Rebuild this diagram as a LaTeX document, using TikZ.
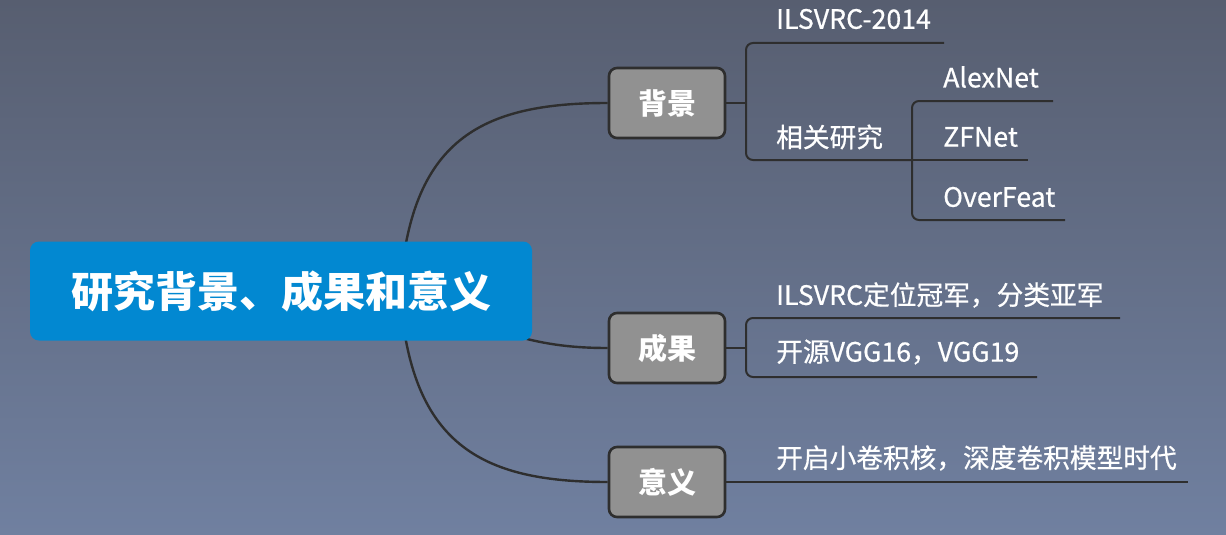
\documentclass[tikz,border=0pt]{standalone}
\usepackage{fontspec}
\setmainfont{Noto Sans CJK SC}
\newfontfamily\leaffont[FakeBold=0.6]{Noto Sans CJK SC}
\definecolor{bgtop}{HTML}{575E70}
\definecolor{bgbot}{HTML}{7080A0}
\definecolor{rootblue}{HTML}{0288D1}
\definecolor{boxgrey}{HTML}{919191}
\definecolor{linec}{HTML}{2E2E2E}
\begin{document}
\begin{tikzpicture}[x=1pt,y=-1pt,
  branch/.style={draw=linec,line width=2.4pt},
  sub/.style={draw=linec,line width=2pt,rounded corners=7pt},
  root/.style={fill=rootblue,rounded corners=9pt,minimum width=502pt,minimum height=99pt,inner sep=0pt,text=white,font=\bfseries\fontsize{42}{42}\selectfont},
  topic/.style={fill=boxgrey,draw=linec,line width=2.6pt,rounded corners=8pt,minimum width=116pt,minimum height=70pt,inner sep=0pt,text=white,font=\bfseries\fontsize{29}{29}\selectfont},
  leaf/.style={anchor=west,inner sep=0pt,text=white,font=\leaffont\fontsize{26.7}{26.7}\selectfont}]
\useasboundingbox (0,0) rectangle (1226,535);
\shade[top color=bgtop,bottom color=bgbot] (0,0) rectangle (1226,535);

% topic boxes
\node[topic] (bj) at (667,103) {背景};
\node[topic] (cg) at (667,348) {成果};
\node[topic] (yy) at (667,482) {意义};

% curves from root
\coordinate (o) at (400,292);
\draw[branch] (o) .. controls (410,140) and (480,103) .. (bj.west);
\draw[branch] (o) .. controls (500,335) and (540,348) .. (cg.west);
\draw[branch] (o) .. controls (410,444) and (480,482) .. (yy.west);

\node[root] (root) at (281,291) {研究背景、成果和意义};

% leaves
\node[leaf] (ilsvrc) at (776,19) {ILSVRC-2014};
\node[leaf] (xgyj) at (776,137) {相关研究};
\node[leaf] (alex) at (943,77) {AlexNet};
\node[leaf] (zf) at (943,137) {ZFNet};
\node[leaf] (of) at (943,197) {OverFeat};
\node[leaf] (dw) at (776,295) {ILSVRC定位冠军，分类亚军};
\node[leaf] (ky) at (776,352) {开源VGG16，VGG19};
\node[leaf] (kq) at (776,458) {开启小卷积核，深度卷积模型时代};

% 背景 branch
\coordinate (bjk) at (746,103);
\coordinate (u1) at (944,43);
\coordinate (xk) at (912,160);
\coordinate (u2) at (1053,101);
\coordinate (u3) at (1028,160);
\coordinate (u4) at (1065,220);
\draw[sub] (bj.east) -- (bjk);
\draw[sub] (u1) -- (746,43) -- (746,160) -- (xk);
\draw[sub] (xk) -- (u3);
\draw[sub] (u2) -- (912,101) -- (912,220) -- (u4);

% 成果 branch
\coordinate (cgk) at (746,348);
\coordinate (u5) at (1120,318);
\coordinate (u6) at (1037,377);
\draw[sub] (cg.east) -- (cgk);
\draw[sub] (u5) -- (746,318) -- (746,377) -- (u6);

% 意义 branch
\coordinate (u7) at (1188,482);
\draw[sub] (yy.east) -- (u7);
\end{tikzpicture}
\end{document}
